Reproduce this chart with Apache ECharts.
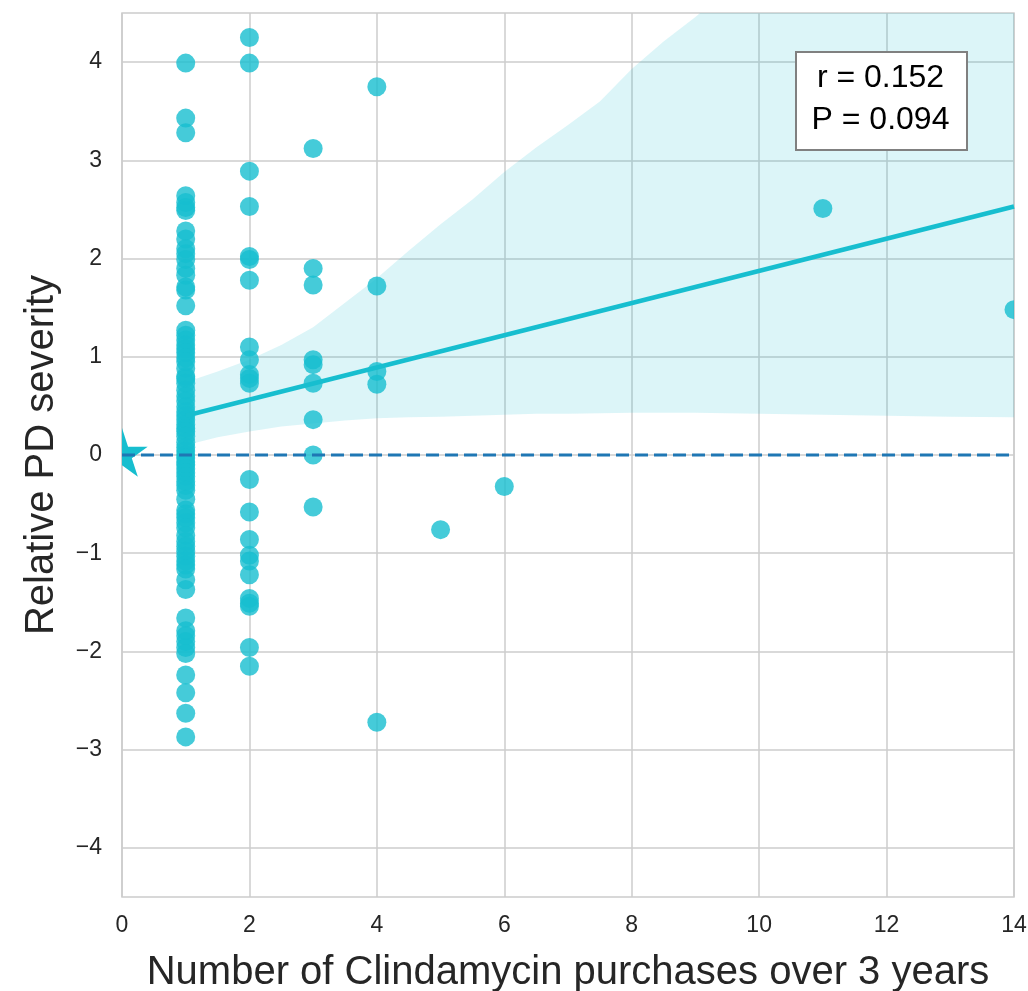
<!DOCTYPE html>
<html><head><meta charset="utf-8">
<script src="https://cdn.jsdelivr.net/npm/echarts@6/dist/echarts.min.js"></script>
<style>html,body{margin:0;padding:0;background:#fff}#c{width:1028px;height:991px}</style>
</head><body><div id="c"></div>
<script>
// ---- data ----
const xTicks = [0, 2, 4, 6, 8, 10, 12, 14];
const yTicks = [-4, -3, -2, -1, 0, 1, 2, 3, 4];
const severityAt1 = [3.99, 3.43, 3.28, 2.64, 2.57, 2.52, 2.49, 2.28, 2.20, 2.10, 2.05, 1.99, 1.90, 1.83, 1.71, 1.68, 1.52,
  1.27, 1.22, 1.17, 1.12, 1.08, 1.04, 0.99, 0.95, 0.88, 0.80, 0.78, 0.73, 0.66, 0.60, 0.55, 0.49, 0.44, 0.40, 0.36,
  0.31, 0.27, 0.24, 0.19, 0.13, 0.08, 0.04, 0.00, -0.03, -0.07, -0.10, -0.14, -0.18, -0.22, -0.27, -0.31, -0.36,
  -0.45, -0.56, -0.60, -0.64, -0.69, -0.74, -0.82, -0.88, -0.93, -0.98, -1.03, -1.08, -1.12, -1.16, -1.27, -1.37,
  -1.66, -1.79, -1.84, -1.90, -1.96, -2.02, -2.24, -2.42, -2.63, -2.87];
const severityAt2 = [4.25, 3.99, 2.89, 2.53, 2.02, 1.99, 1.78, 1.10, 0.97, 0.82, 0.78, 0.73, -0.25, -0.58, -0.86,
  -1.02, -1.08, -1.22, -1.46, -1.51, -1.54, -1.96, -2.15];
const severityAt3 = [3.12, 1.90, 1.73, 0.97, 0.92, 0.73, 0.36, 0.00, -0.53];
const severityAt4 = [3.75, 1.72, 0.85, 0.72, -2.72];
const otherPurchases = [5, 6, 11, 14];
const otherSeverity = [-0.76, -0.32, 2.51, 1.48];
const fitX = [1, 14];
const fitY = [0.40, 2.53];
const bandX = [1, 1.5, 2, 2.5, 3, 3.5, 4, 4.5, 5, 5.5, 6, 6.5, 7, 7.5, 8, 8.5, 9, 10, 11, 12, 13, 14];
const bandUpper = [0.74, 0.85, 0.97, 1.12, 1.30, 1.55, 1.80, 2.08, 2.35, 2.60, 2.88, 3.13, 3.36, 3.60, 3.93, 4.21, 4.46, 5.0, 5.5, 6.0, 6.5, 7.0];
const bandLower = [0.10, 0.18, 0.24, 0.29, 0.32, 0.35, 0.375, 0.385, 0.39, 0.40, 0.41, 0.42, 0.42, 0.425, 0.43, 0.43, 0.43, 0.42, 0.41, 0.40, 0.39, 0.385];
const zeroLineX = [0, 14];
const zeroLineY = [0, 0];
const refPoint = [0, 0];
const statsText = ['r = 0.152', 'P = 0.094'];

// ---- build ----
const points = [];
severityAt1.forEach(v => points.push([1, v]));
severityAt2.forEach(v => points.push([2, v]));
severityAt3.forEach(v => points.push([3, v]));
severityAt4.forEach(v => points.push([4, v]));
otherPurchases.forEach((x, i) => points.push([x, otherSeverity[i]]));

const FONT = '"Liberation Sans", Arial, sans-serif';
const fmtNum = v => {
  const r = Math.round(v);
  if (Math.abs(v - r) > 1e-6) return '';
  return r < 0 ? '\u2212' + (-r) : String(r);
};

const chart = echarts.init(document.getElementById('c'), null, {renderer: 'canvas'});
chart.setOption({
  animation: false,
  backgroundColor: '#fff',
  grid: {left: 122, right: 14, top: 13, bottom: 94, outerBoundsMode: 'none', containLabel: false,
    show: true, borderColor: '#cccccc', borderWidth: 1.5, backgroundColor: 'transparent'},
  xAxis: {
    type: 'value', min: xTicks[0], max: xTicks[xTicks.length - 1], interval: 2,
    axisLine: {show: false}, axisTick: {show: false},
    axisLabel: {fontSize: 23, color: '#262626', fontFamily: FONT, margin: 17, formatter: fmtNum},
    splitLine: {show: true, lineStyle: {color: '#cccccc', width: 1.5}},
    name: 'Number of Clindamycin purchases over 3 years', nameLocation: 'middle', nameGap: 56,
    nameTextStyle: {fontSize: 40, color: '#262626', fontFamily: FONT}
  },
  yAxis: {
    type: 'value', min: -4.5, max: 4.5, interval: 0.5,
    axisLine: {show: false}, axisTick: {show: false},
    axisLabel: {fontSize: 23, color: '#262626', fontFamily: FONT, margin: 20, formatter: fmtNum},
    splitLine: {show: true, lineStyle: {color: ['rgba(0,0,0,0)', '#cccccc'], width: 1.5}},
    name: 'Relative PD severity', nameLocation: 'middle', nameGap: 60,
    nameTextStyle: {fontSize: 40, color: '#262626', fontFamily: FONT}
  },
  series: [
    {
      type: 'custom', clip: true, z: 2,
      data: bandX.map((x, i) => [x, bandLower[i], bandUpper[i]]),
      encode: {x: 0, y: [1, 2]},
      renderItem: function (params, api) {
        if (params.dataIndex !== 0) return null;
        const pts = [];
        for (let i = 0; i < bandX.length; i++) pts.push(api.coord([bandX[i], bandUpper[i]]));
        for (let i = bandX.length - 1; i >= 0; i--) pts.push(api.coord([bandX[i], bandLower[i]]));
        return {type: 'polygon', shape: {points: pts}, style: {fill: 'rgba(23,190,207,0.15)'}};
      }
    },
    {
      type: 'custom', clip: true, z: 3,
      data: points,
      renderItem: function (params, api) {
        const p = api.coord([api.value(0), api.value(1)]);
        return {type: 'circle', shape: {cx: p[0], cy: p[1], r: 9.5}, style: {fill: 'rgba(23,190,207,0.8)'}};
      }
    },
    {
      type: 'line', z: 4, symbol: 'none', silent: true,
      data: fitX.map((x, i) => [x, fitY[i]]),
      lineStyle: {color: '#17becf', width: 4.5}
    },
    {
      type: 'custom', clip: true, z: 5,
      data: [refPoint],
      renderItem: function (params, api) {
        const c = api.coord([api.value(0), api.value(1)]);
        const R = 27, r = R * 0.382;
        const pts = [];
        for (let k = 0; k < 10; k++) {
          const a = -Math.PI / 2 + k * Math.PI / 5;
          const rad = k % 2 === 0 ? R : r;
          pts.push([c[0] + rad * Math.cos(a), c[1] + rad * Math.sin(a)]);
        }
        return {type: 'polygon', shape: {points: pts}, style: {fill: '#17becf'}};
      }
    },
    {
      type: 'line', z: 6, symbol: 'none', silent: true,
      data: zeroLineX.map((x, i) => [x, zeroLineY[i]]),
      lineStyle: {color: '#1f77b4', width: 3, type: [13, 6]}
    }
  ],
  graphic: [
    {type: 'rect', left: 795, top: 51, z: 100,
      shape: {width: 171, height: 98}, style: {fill: '#ffffff', stroke: '#808080', lineWidth: 2}},
    {type: 'text', x: 880.5, y: 78, z: 101,
      style: {text: statsText[0], font: '32px ' + FONT, fill: '#000', align: 'center', verticalAlign: 'middle'}},
    {type: 'text', x: 880.5, y: 120, z: 101,
      style: {text: statsText[1], font: '32px ' + FONT, fill: '#000', align: 'center', verticalAlign: 'middle'}}
  ]
});
</script>
</body></html>
